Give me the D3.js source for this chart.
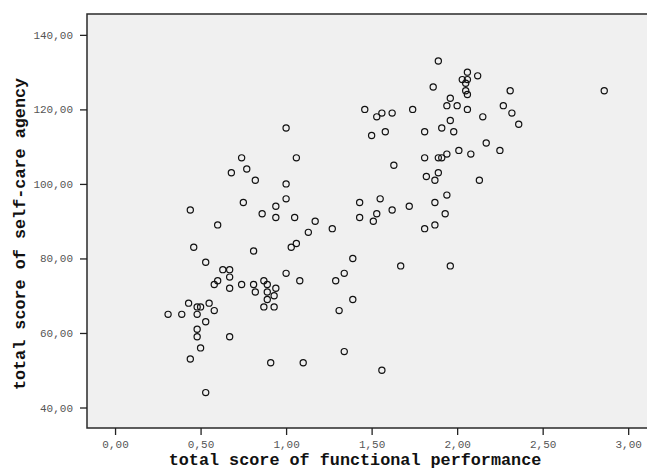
<!DOCTYPE html>
<html>
<head>
<meta charset="utf-8">
<script src="https://cdn.jsdelivr.net/npm/d3@7"></script>
<style>
  body { margin: 0; background: #fff; }
  svg { display: block; }
</style>
</head>
<body>
<div id="chart"></div>
<script>
// functional performance (x) vs self-care agency (y)
const perf = [
    1.00, 0.74, 1.06, 0.77, 0.68, 0.82, 1.00, 0.75, 1.00, 0.94, 0.44, 0.86, 0.94, 1.05, 1.17, 0.60, 1.13, 1.27,
    0.46, 0.81, 1.03, 1.06, 0.53, 0.63, 0.67, 0.67, 1.00, 0.60, 0.58, 0.74, 0.67, 0.81, 0.82, 0.87, 0.89, 0.94,
    0.89, 0.93, 0.89, 1.08, 0.87, 0.93, 0.43, 0.55, 0.48, 0.50, 0.31, 0.39, 0.48, 0.58, 0.53, 0.48, 0.48, 0.67,
    0.50, 0.44, 0.91, 1.10, 0.53,
    1.89, 2.06, 2.12, 2.03, 2.06, 2.05, 2.05, 2.06, 1.86, 2.31, 2.86, 1.96, 1.94, 2.00, 2.06, 2.27, 2.32, 2.36,
    2.15, 1.46, 1.53, 1.56, 1.62, 1.74, 1.50, 1.58, 1.81, 1.91, 1.96, 1.98, 2.17, 2.25, 2.01, 2.08, 1.81, 1.89,
    1.91, 1.94, 1.63, 1.82, 1.87, 1.89, 2.13, 1.94, 1.87, 1.43, 1.55, 1.72, 1.62, 1.43, 1.53, 1.51, 1.93, 1.87,
    1.81, 1.39, 1.67, 1.96, 1.34, 1.29, 1.39, 1.31, 1.34, 1.56
];
const agency = [
    115, 107, 107, 104, 103, 101, 100, 95, 96, 94, 93, 92, 91, 91, 90, 89, 87, 88,
    83, 82, 83, 84, 79, 77, 77, 75, 76, 74, 73, 73, 72, 73, 71, 74, 73, 72,
    71, 70, 69, 74, 67, 67, 68, 68, 67, 67, 65, 65, 65, 66, 63, 61, 59, 59,
    56, 53, 52, 52, 44,
    133, 130, 129, 128, 128, 127, 125, 124, 126, 125, 125, 123, 121, 121, 120, 121, 119, 116,
    118, 120, 118, 119, 119, 120, 113, 114, 114, 115, 117, 114, 111, 109, 109, 108, 107, 107,
    107, 108, 105, 102, 101, 103, 101, 97, 95, 95, 96, 94, 93, 91, 92, 90, 92, 89,
    88, 80, 78, 78, 76, 74, 69, 66, 55, 50
];
const xTicks = [0, 0.5, 1, 1.5, 2, 2.5, 3];
const yTicks = [40, 60, 80, 100, 120, 140];
const xTitle = "total score of functional performance";
const yTitle = "total score of self-care agency";

const width = 647, height = 470;
const plotLeft = 87, plotTop = 14, plotRight = 647, plotBottom = 428;
const fmt = v => v.toFixed(2).replace(".", ",");

const x = d3.scaleLinear().domain([-0.164, 3.11]).range([plotLeft, plotRight]);
const y = d3.scaleLinear().domain([34.5, 145.6]).range([plotBottom, plotTop]);

const svg = d3.select("#chart").append("svg")
    .attr("width", width)
    .attr("height", height);

// plot background + frame (right edge runs off the picture)
svg.append("rect")
    .attr("x", plotLeft).attr("y", plotTop)
    .attr("width", plotRight + 10 - plotLeft).attr("height", plotBottom - plotTop)
    .attr("fill", "#f0f0f0")
    .attr("stroke", "#2a2a2a")
    .attr("stroke-width", 1.5);

const mono = "'Courier New', 'Liberation Mono', monospace";

const xAxis = svg.append("g")
    .attr("transform", `translate(0,${plotBottom})`)
    .call(d3.axisBottom(x).tickValues(xTicks).tickFormat(fmt).tickSize(7).tickPadding(5));
const yAxis = svg.append("g")
    .attr("transform", `translate(${plotLeft},0)`)
    .call(d3.axisLeft(y).tickValues(yTicks).tickFormat(fmt).tickSize(7).tickPadding(7));

[xAxis, yAxis].forEach(g => {
    g.select(".domain").remove();
    g.selectAll(".tick line").attr("stroke", "#222").attr("stroke-width", 1.3);
    g.selectAll(".tick text")
        .attr("fill", "#555")
        .style("font-family", mono)
        .style("font-size", "11px");
});

// points
svg.append("g")
    .selectAll("circle")
    .data(perf.map((p, i) => [p, agency[i]]))
    .enter().append("circle")
    .attr("cx", d => x(d[0]))
    .attr("cy", d => y(d[1]))
    .attr("r", 3.1)
    .attr("fill", "none")
    .attr("stroke", "#111")
    .attr("stroke-width", 1.2);

// axis titles
svg.append("text")
    .attr("x", 355)
    .attr("y", 465)
    .attr("text-anchor", "middle")
    .style("font-family", mono)
    .style("font-weight", "bold")
    .style("font-size", "16.8px")
    .attr("fill", "#111")
    .text(xTitle);

svg.append("text")
    .attr("transform", "translate(25,234) rotate(-90)")
    .attr("text-anchor", "middle")
    .style("font-family", mono)
    .style("font-weight", "bold")
    .style("font-size", "16.8px")
    .attr("fill", "#111")
    .text(yTitle);
</script>
</body>
</html>
